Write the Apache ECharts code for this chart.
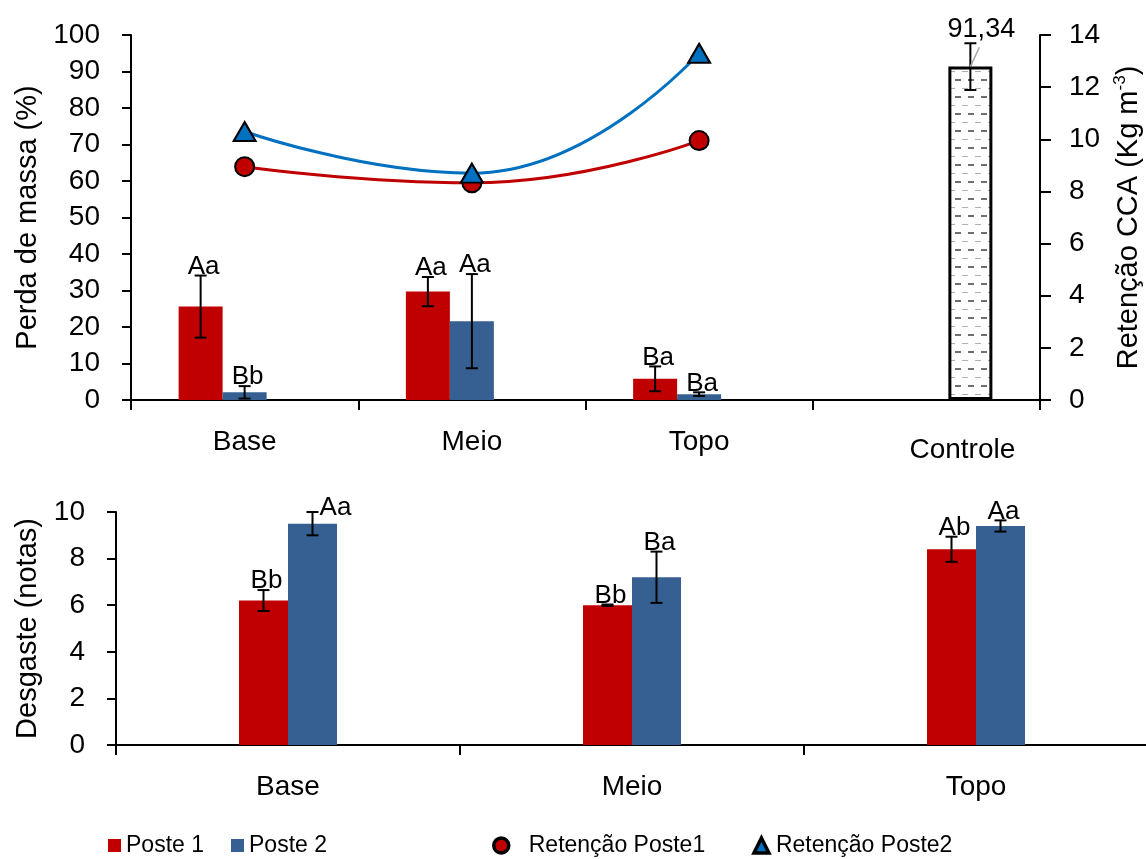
<!DOCTYPE html>
<html>
<head>
<meta charset="utf-8">
<script src="https://cdn.jsdelivr.net/npm/echarts@6/dist/echarts.min.js"></script>
<style>
  html, body { margin: 0; padding: 0; background: #fff; }
  #chart { width: 1146px; height: 859px; }
</style>
</head>
<body>
<div id="chart"></div>
<script>
// ---- Perda de massa (top panel) ----
const categoriasTopo = ['Base', 'Meio', 'Topo', 'Controle'];
const perdaPoste1 = [25.6, 29.7, 5.8, '-'];
const perdaPoste2 = [2.1, 21.6, 1.6, '-'];
const perdaControle = ['-', '-', '-', 91.34];
const erroPerdaPoste1 = [8.5, 4.0, 3.4];
const erroPerdaPoste2 = [1.7, 12.9, 0.5];
const erroPerdaControle = [6.4];
const letrasPerdaPoste1 = ['Aa', 'Aa', 'Ba'];
const letrasPerdaPoste2 = ['Bb', 'Aa', 'Ba'];

// Retenção CCA (right axis of the top panel)
const retencaoPoste1 = [8.95, 8.33, 9.95, '-'];
const retencaoPoste2 = [10.3, 8.7, 13.3, '-'];

// ---- Desgaste (bottom panel) ----
const categoriasBase = ['Base', 'Meio', 'Topo'];
const desgastePoste1 = [6.2, 6.0, 8.4];
const desgastePoste2 = [9.5, 7.2, 9.4];
const erroDesgastePoste1 = [0.45, 0.03, 0.54];
const erroDesgastePoste2 = [0.5, 1.1, 0.24];
const letrasDesgastePoste1 = ['Bb', 'Bb', 'Ab'];
const letrasDesgastePoste2 = ['Aa', 'Ba', 'Aa'];

const FONT = '"Liberation Sans", Arial, sans-serif';
const RED = '#C00000';
const BLUE_BAR = '#376092';
const BLUE_LINE = '#0070C0';

// dashed-horizontal fill for the Controle bar
function dashPattern() {
  const c = document.createElement('canvas');
  c.width = 13; c.height = 17;
  const g = c.getContext('2d');
  g.fillStyle = '#ffffff';
  g.fillRect(0, 0, 13, 17);
  g.fillStyle = '#b0b0b0';
  g.fillRect(0, 3, 6, 1);
  g.fillStyle = '#6f6f6f';
  g.fillRect(6, 11, 6, 2);
  return c;
}

// error bar + significance letters drawn on a bar slot
function errorSeries(opts) {
  const data = opts.values.map((v, i) => [i + (opts.startIndex || 0), v, opts.errors[i], i]);
  return {
    type: 'custom',
    xAxisIndex: opts.xAxisIndex,
    yAxisIndex: opts.yAxisIndex,
    z: 6,
    silent: true,
    encode: { x: 0, y: 1 },
    data: data,
    renderItem: function (params, api) {
      const cat = api.value(0), v = api.value(1), e = api.value(2), k = api.value(3);
      const base = api.coord([cat, v]);
      const hi = api.coord([cat, v + e]);
      const lo = api.coord([cat, v - e]);
      const x = base[0] + (opts.slot - (opts.slots - 1) / 2) * opts.barWidth;
      const cap = 6;
      const children = [
        { type: 'line', shape: { x1: x, y1: hi[1], x2: x, y2: lo[1] }, style: { stroke: '#000', lineWidth: 2 } },
        { type: 'line', shape: { x1: x - cap, y1: hi[1], x2: x + cap, y2: hi[1] }, style: { stroke: '#000', lineWidth: 2 } },
        { type: 'line', shape: { x1: x - cap, y1: lo[1], x2: x + cap, y2: lo[1] }, style: { stroke: '#000', lineWidth: 2 } }
      ];
      const nudge = (opts.nudge && opts.nudge[k]) || [0, 0];
      const text = opts.labels ? opts.labels[k] : v.toFixed(2).replace('.', ',');
      if (opts.leader) {
        children.push({ type: 'line', shape: { x1: x, y1: base[1], x2: x + 9, y2: hi[1] + 4 }, style: { stroke: '#a6a6a6', lineWidth: 1.5 } });
        children.push({ type: 'text', style: { text: text, x: x + 11, y: hi[1] - 14, align: 'center', verticalAlign: 'middle', fontSize: 27, fontFamily: FONT, fill: '#000' } });
      } else {
        children.push({ type: 'text', style: { text: text, x: x + 3 + nudge[0], y: hi[1] - 9 + nudge[1], align: 'center', verticalAlign: 'middle', fontSize: 26, fontFamily: FONT, fill: '#000' } });
      }
      return { type: 'group', children: children };
    }
  };
}

const axisLineStyle = { show: true, lineStyle: { color: '#000', width: 2 } };
const tickStyle = { show: true, length: 9, lineStyle: { color: '#000', width: 2 } };
const labelStyle = { color: '#000', fontSize: 28, fontFamily: FONT };

const chart = echarts.init(document.getElementById('chart'), null, { renderer: 'canvas' });

chart.setOption({
  animation: false,
  backgroundColor: '#fff',
  textStyle: { fontFamily: FONT },
  grid: [
    { left: 131, top: 35, width: 909, height: 365, outerBoundsMode: 'none', containLabel: false },
    { left: 116, top: 512, width: 1032, height: 233, outerBoundsMode: 'none', containLabel: false }
  ],
  xAxis: [
    {
      type: 'category', gridIndex: 0, data: categoriasTopo,
      axisLine: axisLineStyle, axisTick: { show: true, length: 10, lineStyle: { color: '#000', width: 2 } },
      axisLabel: Object.assign({}, labelStyle, {
        margin: 28,
        formatter: v => v === 'Controle' ? '{c|' + v + '}' : v,
        rich: { c: { fontSize: 28, fontFamily: FONT, color: '#000', padding: [8, 0, 0, 72] } }
      })
    },
    {
      type: 'category', gridIndex: 1, data: categoriasBase,
      axisLine: axisLineStyle, axisTick: { show: true, length: 10, lineStyle: { color: '#000', width: 2 } },
      axisLabel: Object.assign({}, labelStyle, { margin: 28 })
    }
  ],
  yAxis: [
    {
      type: 'value', gridIndex: 0, min: 0, max: 100, interval: 10,
      axisLine: axisLineStyle, axisTick: tickStyle, splitLine: { show: false },
      axisLabel: Object.assign({}, labelStyle, { margin: 31 }),
      name: 'Perda de massa (%)', nameLocation: 'middle', nameGap: 84,
      nameTextStyle: { fontSize: 29, fontFamily: FONT, color: '#000' }
    },
    {
      type: 'value', gridIndex: 0, position: 'right', min: 0, max: 14, interval: 2,
      axisLine: axisLineStyle, axisTick: { show: true, length: 11, lineStyle: { color: '#000', width: 2 } },
      splitLine: { show: false },
      axisLabel: Object.assign({}, labelStyle, { margin: 29 }),
      name: '{t|Retenção CCA (Kg m}{s|-3}{t|)}', nameLocation: 'middle', nameGap: 72, nameRotate: 90,
      nameTextStyle: {
        rich: {
          t: { fontSize: 29, fontFamily: FONT, color: '#000', lineHeight: 34 },
          s: { fontSize: 17, fontFamily: FONT, color: '#000', verticalAlign: 'top', lineHeight: 34, padding: [0, 0, 14, 0] }
        }
      }
    },
    {
      type: 'value', gridIndex: 1, min: 0, max: 10, interval: 2,
      axisLine: axisLineStyle, axisTick: tickStyle, splitLine: { show: false },
      axisLabel: Object.assign({}, labelStyle, { margin: 31 }),
      name: 'Desgaste (notas)', nameLocation: 'middle', nameGap: 67,
      nameTextStyle: { fontSize: 29, fontFamily: FONT, color: '#000' }
    }
  ],
  legend: [
    {
      data: ['Poste 1', 'Poste 2'], left: 103, top: 829, icon: 'rect',
      itemWidth: 13, itemHeight: 13, itemGap: 27,
      textStyle: { fontSize: 23, fontFamily: FONT, color: '#000' }
    },
    {
      data: [
        { name: 'Retenção Poste1', icon: 'circle', itemStyle: { color: RED, borderColor: '#000', borderWidth: 3.5 } },
        { name: 'Retenção Poste2', icon: 'triangle', itemStyle: { color: BLUE_LINE, borderColor: '#000', borderWidth: 3.5 } }
      ],
      left: 487, top: 829, itemWidth: 15, itemHeight: 15, itemGap: 47,
      formatter: n => n === 'Retenção Poste1' ? '{w|' + n + '}' : '{n|' + n + '}',
      textStyle: {
        fontSize: 23, fontFamily: FONT, color: '#000',
        rich: {
          w: { fontSize: 23, fontFamily: FONT, color: '#000', padding: [0, 0, 0, 15] },
          n: { fontSize: 23, fontFamily: FONT, color: '#000', padding: [0, 0, 0, 2] }
        }
      }
    }
  ],
  series: [
    { name: 'Poste 1', type: 'bar', xAxisIndex: 0, yAxisIndex: 0, data: perdaPoste1, barWidth: 44, barGap: '0%', itemStyle: { color: RED } },
    { name: 'Poste 2', type: 'bar', xAxisIndex: 0, yAxisIndex: 0, data: perdaPoste2, barWidth: 44, barGap: '0%', itemStyle: { color: BLUE_BAR } },
    { name: 'Controle', type: 'bar', xAxisIndex: 0, yAxisIndex: 0, data: perdaControle, barWidth: 44, barGap: '0%',
      itemStyle: { color: { image: dashPattern(), repeat: 'repeat' }, borderColor: '#000', borderWidth: 3 } },
    errorSeries({ values: perdaPoste1.slice(0, 3), errors: erroPerdaPoste1, labels: letrasPerdaPoste1, xAxisIndex: 0, yAxisIndex: 0, slot: 0, slots: 3, barWidth: 44 }),
    errorSeries({ values: perdaPoste2.slice(0, 3), errors: erroPerdaPoste2, labels: letrasPerdaPoste2, xAxisIndex: 0, yAxisIndex: 0, slot: 1, slots: 3, barWidth: 44 }),
    errorSeries({ values: perdaControle.slice(3), startIndex: 3, errors: erroPerdaControle, leader: true, xAxisIndex: 0, yAxisIndex: 0, slot: 2, slots: 3, barWidth: 44 }),
    {
      name: 'Retenção Poste1', type: 'line', xAxisIndex: 0, yAxisIndex: 1, data: retencaoPoste1, smooth: 0.5, z: 8,
      symbol: 'circle', symbolSize: 19,
      lineStyle: { color: RED, width: 3 },
      itemStyle: { color: RED, borderColor: '#000', borderWidth: 2 }
    },
    {
      name: 'Retenção Poste2', type: 'line', xAxisIndex: 0, yAxisIndex: 1, data: retencaoPoste2, smooth: 0.5, z: 9,
      symbol: 'triangle', symbolSize: [22, 19],
      lineStyle: { color: BLUE_LINE, width: 3 },
      itemStyle: { color: BLUE_LINE, borderColor: '#000', borderWidth: 2 }
    },
    { name: 'Poste 1', type: 'bar', xAxisIndex: 1, yAxisIndex: 2, data: desgastePoste1, barWidth: 49, barGap: '0%', itemStyle: { color: RED } },
    { name: 'Poste 2', type: 'bar', xAxisIndex: 1, yAxisIndex: 2, data: desgastePoste2, barWidth: 49, barGap: '0%', itemStyle: { color: BLUE_BAR } },
    errorSeries({ values: desgastePoste1, errors: erroDesgastePoste1, labels: letrasDesgastePoste1, xAxisIndex: 1, yAxisIndex: 2, slot: 0, slots: 2, barWidth: 49 }),
    errorSeries({ values: desgastePoste2, errors: erroDesgastePoste2, labels: letrasDesgastePoste2, nudge: { 0: [20, 5] }, xAxisIndex: 1, yAxisIndex: 2, slot: 1, slots: 2, barWidth: 49 })
  ]
});
</script>
</body>
</html>
